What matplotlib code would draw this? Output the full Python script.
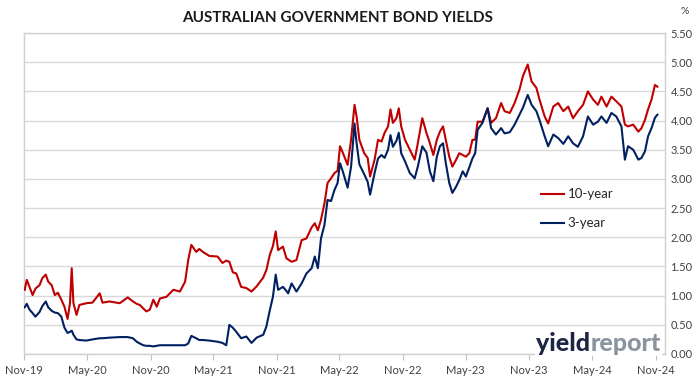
import matplotlib
matplotlib.use("Agg")
import matplotlib.pyplot as plt
import matplotlib.dates as mdates
from matplotlib.offsetbox import TextArea, HPacker, AnchoredOffsetbox
import pandas as pd

# dates (roughly every 1-2 weeks, extra points at spikes)
dates = [
    "2019-11-03", "2019-11-09", "2019-11-17", "2019-11-26", "2019-12-04", "2019-12-16", "2019-12-24",
    "2020-01-03", "2020-01-10", "2020-01-20", "2020-01-29", "2020-02-07", "2020-02-17", "2020-02-26",
    "2020-03-06", "2020-03-13", "2020-03-18", "2020-03-23", "2020-04-01", "2020-04-09", "2020-04-29",
    "2020-05-17", "2020-06-07", "2020-06-15", "2020-07-05", "2020-08-04", "2020-08-27", "2020-09-11",
    "2020-09-22", "2020-10-01", "2020-10-11", "2020-10-20", "2020-10-30", "2020-11-09", "2020-11-19",
    "2020-11-28", "2020-12-17", "2021-01-06", "2021-01-25", "2021-02-09", "2021-02-18", "2021-02-27",
    "2021-03-13", "2021-03-22", "2021-04-01", "2021-04-20", "2021-05-14", "2021-05-28", "2021-06-08",
    "2021-06-17", "2021-06-27", "2021-07-07", "2021-07-21", "2021-08-05", "2021-08-20", "2021-09-04",
    "2021-09-23", "2021-10-02", "2021-10-12", "2021-10-21", "2021-10-29", "2021-11-05", "2021-11-19",
    "2021-11-29", "2021-12-04", "2021-12-14", "2021-12-28", "2022-01-12", "2022-01-26", "2022-02-10",
    "2022-02-19", "2022-02-28", "2022-03-09", "2022-03-19", "2022-03-28", "2022-04-07", "2022-04-17",
    "2022-04-26", "2022-05-03", "2022-05-11", "2022-05-25", "2022-06-04", "2022-06-14", "2022-06-20",
    "2022-06-28", "2022-07-12", "2022-07-22", "2022-07-29", "2022-08-11", "2022-08-21", "2022-08-31",
    "2022-09-09", "2022-09-19", "2022-09-26", "2022-10-03", "2022-10-13", "2022-10-20", "2022-10-27",
    "2022-11-07", "2022-11-21", "2022-12-05", "2022-12-14", "2022-12-27", "2023-01-08", "2023-01-18",
    "2023-01-28", "2023-02-07", "2023-02-16", "2023-02-25", "2023-03-05", "2023-03-15", "2023-03-24",
    "2023-04-04", "2023-04-13", "2023-04-23", "2023-05-02", "2023-05-12", "2023-05-21", "2023-05-29",
    "2023-06-05", "2023-06-19", "2023-07-04", "2023-07-14", "2023-07-28", "2023-08-12", "2023-08-22",
    "2023-09-06", "2023-09-20", "2023-10-04", "2023-10-14", "2023-10-28", "2023-11-08", "2023-11-22",
    "2023-12-01", "2023-12-16", "2023-12-26", "2024-01-10", "2024-01-24", "2024-02-08", "2024-02-22",
    "2024-03-07", "2024-03-21", "2024-04-05", "2024-04-19", "2024-05-04", "2024-05-18", "2024-05-28",
    "2024-06-12", "2024-06-26", "2024-07-10", "2024-07-25", "2024-08-04", "2024-08-13", "2024-08-28",
    "2024-09-12", "2024-09-21", "2024-10-01", "2024-10-10", "2024-10-20", "2024-10-30", "2024-11-06",
]

yield_10y = [
    1.10, 1.27, 1.15, 1.01, 1.12, 1.18, 1.30,
    1.36, 1.24, 1.18, 1.01, 1.05, 0.93, 0.81,
    0.60, 0.87, 1.47, 0.87, 0.67, 0.84, 0.87,
    0.88, 1.04, 0.88, 0.90, 0.87, 0.97, 0.90,
    0.86, 0.84, 0.78, 0.73, 0.76, 0.93, 0.81,
    0.95, 0.98, 1.10, 1.07, 1.24, 1.61, 1.87,
    1.75, 1.80, 1.75, 1.68, 1.67, 1.56, 1.60,
    1.58, 1.40, 1.38, 1.15, 1.13, 1.07, 1.16,
    1.31, 1.44, 1.70, 1.85, 2.10, 1.78, 1.84,
    1.64, 1.62, 1.58, 1.61, 1.95, 1.98, 2.17,
    2.24, 2.12, 2.30, 2.58, 2.93, 3.01, 3.10,
    3.14, 3.56, 3.45, 3.24, 3.67, 4.27, 4.07,
    3.67, 3.44, 3.36, 3.04, 3.33, 3.67, 3.64,
    3.79, 3.90, 4.19, 3.96, 4.04, 4.21, 3.90,
    3.67, 3.50, 3.33, 3.61, 4.04, 3.79, 3.61,
    3.41, 3.67, 3.81, 3.90, 3.67, 3.38, 3.21,
    3.33, 3.44, 3.41, 3.38, 3.44, 3.67, 3.67,
    3.98, 3.98, 4.21, 3.96, 4.04, 4.30, 4.16,
    4.13, 4.30, 4.53, 4.76, 4.96, 4.67, 4.56,
    4.36, 4.07, 3.95, 4.24, 4.30, 4.16, 4.24,
    4.04, 4.16, 4.27, 4.50, 4.36, 4.27, 4.41,
    4.24, 4.41, 4.33, 4.24, 3.93, 3.90, 3.93,
    3.81, 3.87, 4.01, 4.19, 4.36, 4.61, 4.58,
]

yield_3y = [
    0.80, 0.86, 0.76, 0.70, 0.64, 0.72, 0.82,
    0.90, 0.80, 0.74, 0.71, 0.70, 0.64, 0.45,
    0.36, 0.38, 0.40, 0.33, 0.25, 0.24, 0.23,
    0.25, 0.27, 0.27, 0.28, 0.29, 0.29, 0.27,
    0.21, 0.18, 0.15, 0.14, 0.14, 0.13, 0.14,
    0.15, 0.15, 0.15, 0.15, 0.15, 0.18, 0.31,
    0.27, 0.24, 0.24, 0.23, 0.21, 0.19, 0.15,
    0.50, 0.45, 0.38, 0.27, 0.30, 0.19, 0.28,
    0.33, 0.47, 0.75, 0.98, 1.36, 1.10, 1.15,
    1.08, 1.04, 1.21, 1.07, 1.21, 1.38, 1.47,
    1.67, 1.47, 1.98, 2.21, 2.64, 2.62, 2.81,
    2.93, 3.27, 3.13, 2.85, 3.21, 3.95, 3.61,
    3.25, 3.08, 2.95, 2.73, 3.10, 3.35, 3.41,
    3.36, 3.50, 3.75, 3.55, 3.65, 3.79, 3.44,
    3.30, 3.10, 3.01, 3.21, 3.56, 3.45, 3.13,
    2.96, 3.38, 3.56, 3.61, 3.27, 2.93, 2.76,
    2.87, 2.98, 3.13, 3.04, 3.20, 3.35, 3.44,
    3.84, 3.96, 4.21, 3.87, 3.76, 3.87, 3.78,
    3.80, 3.93, 4.10, 4.22, 4.44, 4.27, 4.16,
    4.01, 3.73, 3.56, 3.76, 3.70, 3.60, 3.73,
    3.61, 3.55, 3.73, 4.07, 3.93, 3.98, 4.07,
    3.96, 4.13, 4.07, 3.90, 3.33, 3.56, 3.50,
    3.33, 3.36, 3.47, 3.73, 3.87, 4.05, 4.10,
]

y_ticks = [0.0, 0.5, 1.0, 1.5, 2.0, 2.5, 3.0, 3.5, 4.0, 4.5, 5.0, 5.5]

plt.rcParams['font.family'] = ['Lato', 'DejaVu Sans']

x = pd.to_datetime(dates)

fig = plt.figure(figsize=(6.99, 3.85), dpi=100)
ax = fig.add_axes([24 / 699, 31 / 385, 641 / 699, 321 / 385])

ax.plot(x, yield_10y, color='#c00000', linewidth=1.5, label='10-year', zorder=3)
ax.plot(x, yield_3y, color='#002060', linewidth=1.5, label='3-year', zorder=3)

ax.set_ylim(0, 5.5)
ax.set_xlim(pd.Timestamp("2019-11-01"), pd.Timestamp("2024-11-28"))
ax.set_yticks(y_ticks)
ax.yaxis.tick_right()
ax.yaxis.set_major_formatter(matplotlib.ticker.FormatStrFormatter('%.2f'))
ax.tick_params(axis='y', length=0, pad=4, labelsize=8, labelcolor='#404040')
ax.grid(axis='y', color='#d9d9d9', linewidth=1)
ax.set_axisbelow(True)

ax.xaxis.set_major_locator(mdates.MonthLocator(bymonth=[5, 11]))
ax.xaxis.set_major_formatter(mdates.DateFormatter('%b-%y'))
ax.tick_params(axis='x', length=4, color='#bfbfbf', pad=4, labelsize=8, labelcolor='#404040')

for s in ax.spines.values():
    s.set_color('#d0d0d0')
    s.set_linewidth(1)

leg = ax.legend(loc='center left', bbox_to_anchor=(0.806, 0.452), frameon=False,
                fontsize=9.5, handlelength=1.75, handletextpad=0.3, labelspacing=1.3,
                borderpad=0, borderaxespad=0)
for t in leg.get_texts():
    t.set_color('#262626')

fig.text(338 / 699, 1 - 18 / 385, 'AUSTRALIAN GOVERNMENT BOND YIELDS', ha='center', va='center',
         fontsize=11, fontweight='bold', color='#1a1a1a')
fig.text(685 / 699, 1 - 12 / 385, '%', ha='center', va='center', fontsize=7.5, color='#404040')

# yieldreport logo in the lower right corner
logo = HPacker(children=[
    TextArea('yield', textprops=dict(color='#1c2541', fontsize=18, fontweight='black')),
    TextArea('report', textprops=dict(color='#8a949e', fontsize=18, fontweight='black')),
], sep=0, pad=0)
box = AnchoredOffsetbox(loc='lower right', child=logo, frameon=True, pad=0.1, borderpad=0,
                        bbox_to_anchor=(662 / 699, 29 / 385), bbox_transform=fig.transFigure)
box.patch.set_facecolor('white')
box.patch.set_edgecolor('none')
box.set_zorder(5)
ax.add_artist(box)

fig.savefig('out.png', dpi=100)
